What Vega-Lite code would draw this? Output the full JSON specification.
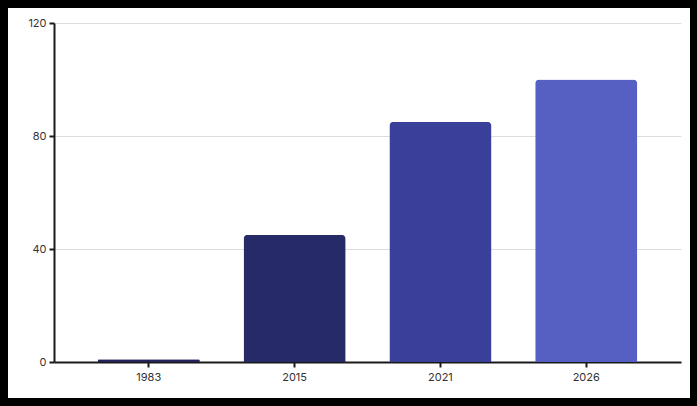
{
  "$schema": "https://vega.github.io/schema/vega-lite/v6.json",
  "width": 682,
  "height": 390,
  "autosize": {"type": "none"},
  "padding": {"left": 8, "top": 8, "right": 7, "bottom": 8},
  "background": "#000000",
  "config": {
    "view": {"fill": "#ffffff", "stroke": null},
    "font": "Inter"
  },
  "data": {
    "values": [
      {"year": "1983", "value": 1, "color": "#23235a"},
      {"year": "2015", "value": 45, "color": "#262a66"},
      {"year": "2021", "value": 85, "color": "#3a3f9a"},
      {"year": "2026", "value": 100, "color": "#5660c2"}
    ]
  },
  "mark": {"type": "bar", "cornerRadiusTopLeft": 4, "cornerRadiusTopRight": 4},
  "encoding": {
    "x": {
      "field": "year",
      "type": "ordinal",
      "sort": null,
      "scale": {"range": [46, 673], "paddingInner": 0.3, "paddingOuter": 0.3},
      "axis": {
        "title": null,
        "labelAngle": 0,
        "offset": -36,
        "domainColor": "#1a1a1a",
        "domainWidth": 2,
        "tickColor": "#1a1a1a",
        "tickWidth": 2,
        "tickSize": 5,
        "labelColor": "#333333",
        "labelFontSize": 11,
        "labelPadding": 4,
        "grid": false
      }
    },
    "y": {
      "field": "value",
      "type": "quantitative",
      "scale": {"domain": [0, 120], "range": [354, 15], "nice": false},
      "axis": {
        "title": null,
        "values": [0, 40, 80, 120],
        "offset": -46,
        "domainColor": "#1a1a1a",
        "domainWidth": 2,
        "tickColor": "#1a1a1a",
        "tickWidth": 2,
        "tickSize": 5,
        "labelColor": "#333333",
        "labelFontSize": 11,
        "labelPadding": 3,
        "grid": true,
        "gridColor": "#dddddd",
        "gridWidth": 1
      }
    },
    "color": {"field": "color", "type": "nominal", "scale": null, "legend": null}
  }
}
